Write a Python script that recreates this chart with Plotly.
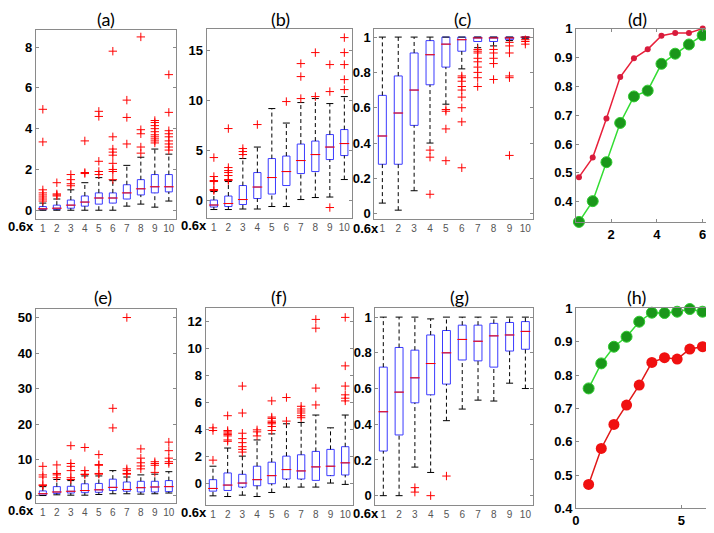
import plotly.graph_objects as go

# the page body adds an 8 px margin, so the figure is made smaller and
# every pixel position below is measured on the 714x533 window
W, H = 714, 533
OFF = 8
FW, FH = W - OFF, H - OFF
CATS = list(range(1, 11))

# ---- panel (a) ----
a_lo = [0, 0, 0, 0, 0, 0, 0.2, 0.3, 0.15, 0.45]
a_q1 = [0.02, 0.03, 0.1, 0.2, 0.3, 0.35, 0.55, 0.75, 0.85, 0.9]
a_med = [0.07, 0.1, 0.25, 0.4, 0.6, 0.6, 0.85, 1.05, 1.15, 1.15]
a_q3 = [0.18, 0.25, 0.5, 0.7, 0.85, 0.85, 1.25, 1.5, 1.75, 1.75]
a_hi = [0.35, 0.55, 1.0, 1.35, 1.6, 1.45, 2.2, 2.6, 3.0, 2.75]
a_out = [
    [0.45, 0.55, 0.65, 0.75, 0.85, 1.0, 3.35, 4.95],
    [0.7, 0.75, 0.8, 1.35],
    [1.2, 1.3, 1.5, 1.75],
    [1.8, 1.85, 3.4],
    [1.75, 1.9, 2.4, 4.6, 4.85],
    [1.5, 1.9, 2.0, 2.3, 2.7, 2.85, 3.0, 3.6, 7.8],
    [3.25, 4.55, 5.4],
    [2.8, 3.1, 3.75, 3.95, 8.5],
    [3.3, 3.4, 3.5, 3.6, 3.7, 3.85, 4.0, 4.15, 4.3, 4.4],
    [2.95, 3.1, 3.25, 3.4, 3.6, 3.75, 3.9, 4.8, 6.65],
]

# ---- panel (b) ----
b_lo = [-0.9, -0.9, -0.85, -0.85, -0.6, -0.6, 0.1, 0.3, 0.35, 2.1]
b_q1 = [-0.65, -0.6, -0.4, 0.2, 0.65, 1.5, 2.7, 2.9, 4.1, 4.5]
b_med = [-0.45, -0.3, 0.1, 1.35, 2.3, 2.9, 4.0, 4.6, 5.35, 5.7]
b_q3 = [0.05, 0.45, 1.5, 2.8, 4.2, 4.45, 5.65, 5.95, 6.6, 7.1]
b_hi = [0.9, 1.9, 4.2, 5.35, 9.2, 7.75, 9.8, 10.2, 9.7, 10.4]
b_out = [
    [1.0, 1.1, 1.9, 2.0, 2.4, 4.3],
    [2.0, 2.1, 2.5, 2.8, 3.0, 3.3, 7.2],
    [4.6, 4.9, 5.2],
    [7.6],
    [],
    [9.9],
    [10.2, 12.4, 13.7],
    [10.4, 14.8],
    [-0.7, 10.9, 13.6],
    [11.1, 12.1, 13.6, 14.8, 16.3],
]

# ---- panel (c) ----
c_lo = [0.06, 0.02, 0.13, 0.4, 0.62, 0.82, 0.94, 0.95, 0.98, 0.99]
c_q1 = [0.28, 0.28, 0.5, 0.73, 0.83, 0.92, 0.975, 0.975, 0.985, 0.995]
c_med = [0.44, 0.57, 0.7, 0.9, 0.96, 0.985, 0.995, 0.995, 0.995, 1.0]
c_q3 = [0.67, 0.78, 0.91, 0.98, 1.0, 1.0, 1.0, 1.0, 1.0, 1.0]
c_hi = [1.0, 1.0, 1.0, 1.0, 1.0, 1.0, 1.0, 1.0, 1.0, 1.0]
c_out = [
    [], [], [],
    [0.36, 0.32, 0.11],
    [0.59, 0.58, 0.48, 0.30],
    [0.78, 0.77, 0.75, 0.72, 0.70, 0.66, 0.60, 0.52, 0.26],
    [0.93, 0.92, 0.91, 0.88, 0.86, 0.83, 0.80, 0.77, 0.72],
    [0.93, 0.91, 0.88, 0.85, 0.76],
    [0.97, 0.95, 0.91, 0.78, 0.77, 0.33],
    [0.985, 0.975, 0.96],
]

# ---- panel (e) ----
e_lo = [0, 0.2, 0.1, 0.1, 0.3, 0.5, 0.5, 0.4, 0.5, 0.7]
e_q1 = [0.1, 0.6, 0.7, 0.8, 0.9, 1.4, 1.2, 1.0, 1.0, 1.1]
e_med = [0.5, 1.0, 1.2, 1.4, 1.6, 2.3, 1.7, 2.2, 2.4, 2.5]
e_q3 = [1.3, 2.5, 2.6, 3.3, 3.4, 4.6, 3.8, 4.0, 4.0, 4.2]
e_hi = [2.5, 4.5, 4.2, 5.5, 5.5, 7.0, 5.2, 5.8, 6.0, 6.7]
e_out = [
    [2.8, 3.0, 5.2, 5.8, 8.2],
    [5.0, 5.8, 6.2, 8.6],
    [4.5, 5.0, 7.0, 8.2, 9.0, 14.0],
    [5.9, 6.0, 7.0, 13.5],
    [6.0, 6.2, 8.5, 8.7, 11.5],
    [19.0, 24.5],
    [6.0, 6.2, 7.0, 7.5, 50.0],
    [7.5, 8.3, 9.2, 10.5, 13.1],
    [6.5, 8.5, 9.0, 9.5],
    [9.0, 9.5, 10.5, 12.6, 15.0],
]

# ---- panel (f) ----
f_lo = [-0.95, -1.0, -0.9, -1.0, -0.7, -0.3, -0.3, -0.3, 0.0, -0.1]
f_q1 = [-0.6, -0.55, -0.3, -0.2, -0.05, 0.3, 0.3, 0.2, 0.55, 0.6]
f_med = [-0.4, -0.15, 0.0, 0.25, 0.55, 1.0, 0.9, 1.2, 1.25, 1.5]
f_q3 = [0.25, 0.75, 0.65, 1.25, 1.55, 2.0, 2.1, 2.35, 2.5, 2.7]
f_hi = [1.25, 2.6, 2.0, 3.2, 3.65, 4.4, 4.5, 5.05, 4.1, 5.05]
f_out = [
    [1.7, 3.9, 4.1],
    [3.1, 3.2, 3.5, 3.6, 3.7, 3.8, 3.9, 5.0],
    [2.3, 2.5, 2.7, 3.0, 3.3, 3.7, 5.2, 7.2],
    [3.5, 3.8, 3.95],
    [3.9, 4.2, 4.4, 4.5, 4.6, 4.8, 4.9, 6.1],
    [4.6, 6.35],
    [4.85, 5.0, 5.2, 5.35, 5.5, 5.7],
    [5.8, 7.05, 11.5, 12.15],
    [],
    [6.1, 6.3, 6.55, 7.2, 8.7, 12.3],
]

# ---- panel (g) ----
g_lo = [0.0, 0.0, 0.16, 0.13, 0.42, 0.485, 0.535, 0.53, 0.63, 0.6]
g_q1 = [0.25, 0.34, 0.52, 0.565, 0.625, 0.76, 0.755, 0.72, 0.81, 0.82]
g_med = [0.47, 0.58, 0.66, 0.74, 0.8, 0.875, 0.865, 0.895, 0.9, 0.92]
g_q3 = [0.72, 0.83, 0.815, 0.9, 0.925, 0.955, 0.955, 0.965, 0.97, 0.975]
g_hi = [1.0, 1.0, 1.0, 0.99, 1.0, 1.0, 1.0, 1.0, 1.0, 1.0]
g_out = [[], [], [0.045, 0.02], [0.0], [0.11], [], [], [], [], []]

# ---- line panels (d) and (h) ----
steps = [0.6, 1.2, 1.8, 2.4, 3.0, 3.6, 4.2, 4.8, 5.4, 6.0]
d_red = [0.485, 0.553, 0.688, 0.832, 0.897, 0.928, 0.975, 0.985, 0.985, 1.0]
d_green = [0.33, 0.402, 0.537, 0.673, 0.765, 0.785, 0.878, 0.913, 0.945, 0.977]
h_green = [0.76, 0.835, 0.885, 0.915, 0.96, 0.987, 0.986, 0.99, 0.998, 0.99]
h_red = [0.472, 0.58, 0.652, 0.71, 0.77, 0.838, 0.852, 0.848, 0.878, 0.885]

# panel frames in window pixels: (left, right, top, bottom)
FRAMES = {
    1: (32, 173, 23, 218),
    2: (204, 350, 22, 217),
    3: (373, 533, 22, 218),
    4: (576, 714, 22, 221),
    5: (32, 173, 311, 510),
    6: (203, 351, 310, 512),
    7: (374, 533, 310, 512),
    8: (576, 714, 310, 516),
}
# "0.6x" label of each box panel: (right edge, gap below frame) in window pixels
ZERO6 = {1: (32, 8), 2: (206, 8), 3: (380, 10), 5: (32, 8), 6: (206, 8), 7: (380, 9)}

BLUE = "#3b3bff"
FRAME_COL = "#8a8a8a"
TICKFONT = dict(family="Liberation Sans", size=13, color="black", weight="bold")


def px_x(x):
    return (x - OFF) / FW


def px_y(y):
    return 1 - (y - OFF) / FH


fig = go.Figure()


def ax(n, kind):
    return kind if n == 1 else kind + str(n)


def add_box_panel(n, lo, q1, med, q3, hi, out):
    xa, ya = ax(n, "x"), ax(n, "y")
    wx, wy = [], []
    for c, l, a, b, h in zip(CATS, lo, q1, q3, hi):
        wx += [c, c, None, c, c, None]
        wy += [l, a, None, b, h, None]
    # dashed whiskers
    fig.add_trace(go.Scatter(x=wx, y=wy, mode="lines", xaxis=xa, yaxis=ya,
                             line=dict(color="black", width=1, dash="4px,3px")))
    # whisker caps
    fig.add_trace(go.Scatter(x=CATS + CATS, y=lo + hi, mode="markers", xaxis=xa, yaxis=ya,
                             marker=dict(symbol="line-ew", size=5,
                                         line=dict(color="black", width=1))))
    # boxes
    fig.add_trace(go.Box(x=CATS, q1=q1, median=med, q3=q3, lowerfence=q1, upperfence=q3,
                         width=0.5, whiskerwidth=0, boxpoints=False,
                         line=dict(color=BLUE, width=1), fillcolor="rgba(0,0,0,0)",
                         xaxis=xa, yaxis=ya))
    # red medians
    fig.add_trace(go.Scatter(x=CATS, y=med, mode="markers", xaxis=xa, yaxis=ya,
                             marker=dict(symbol="line-ew", size=7,
                                         line=dict(color="red", width=1))))
    # outliers
    ox = [c for c, o in zip(CATS, out) for _ in o]
    oy = [v for o in out for v in o]
    fig.add_trace(go.Scatter(x=ox, y=oy, mode="markers", xaxis=xa, yaxis=ya,
                             marker=dict(symbol="cross-thin", size=6,
                                         line=dict(color="red", width=1))))


add_box_panel(1, a_lo, a_q1, a_med, a_q3, a_hi, a_out)
add_box_panel(2, b_lo, b_q1, b_med, b_q3, b_hi, b_out)
add_box_panel(3, c_lo, c_q1, c_med, c_q3, c_hi, c_out)
add_box_panel(5, e_lo, e_q1, e_med, e_q3, e_hi, e_out)
add_box_panel(6, f_lo, f_q1, f_med, f_q3, f_hi, f_out)
add_box_panel(7, g_lo, g_q1, g_med, g_q3, g_hi, g_out)

# line panels
fig.add_trace(go.Scatter(x=steps, y=d_red, mode="lines+markers", xaxis="x4", yaxis="y4",
                         cliponaxis=False, line=dict(color="#e8203a", width=1.5),
                         marker=dict(size=6, color="#d81b3c")))
fig.add_trace(go.Scatter(x=steps, y=d_green, mode="lines+markers", xaxis="x4", yaxis="y4",
                         cliponaxis=False, line=dict(color="#33dd33", width=1.5),
                         marker=dict(size=11, color="#1a961a", line=dict(color="#2ecc2e", width=1))))
fig.add_trace(go.Scatter(x=steps, y=h_green, mode="lines+markers", xaxis="x8", yaxis="y8",
                         cliponaxis=False, line=dict(color="#33dd33", width=1.5),
                         marker=dict(size=11, color="#1a961a", line=dict(color="#2ecc2e", width=1))))
fig.add_trace(go.Scatter(x=steps, y=h_red, mode="lines+markers", xaxis="x8", yaxis="y8",
                         cliponaxis=False, line=dict(color="#e01818", width=1.5),
                         marker=dict(size=11, color="#f01010")))

Y_SETUP = {
    1: ([-0.43, 8.86], [0, 2, 4, 6, 8]),
    2: ([-1.75, 17.2], [0, 5, 10, 15]),
    3: ([-0.03, 1.048], [0, 0.2, 0.4, 0.6, 0.8, 1]),
    4: ([0.33, 1.0], [0.4, 0.5, 0.6, 0.7, 0.8, 0.9, 1]),
    5: ([-2.0, 52.3], [0, 10, 20, 30, 40, 50]),
    6: ([-1.6, 12.97], [0, 2, 4, 6, 8, 10, 12]),
    7: ([-0.05, 1.049], [0, 0.2, 0.4, 0.6, 0.8, 1]),
    8: ([0.4, 1.0], [0.4, 0.5, 0.6, 0.7, 0.8, 0.9, 1]),
}
X_SETUP = {4: ([0.47, 6.45], [2, 4, 6]), 8: ([0, 6.5], [0, 5])}

layout = dict(width=FW, height=FH, margin=dict(l=0, r=0, t=0, b=0),
              paper_bgcolor="white", plot_bgcolor="white", showlegend=False)

for n, (l, r, t, b) in FRAMES.items():
    xd = [px_x(l), min(px_x(r), 1)]
    yd = [px_y(b), px_y(t)]
    yr, yt = Y_SETUP[n]
    xkey = "xaxis" if n == 1 else f"xaxis{n}"
    ykey = "yaxis" if n == 1 else f"yaxis{n}"
    common = dict(showline=True, mirror="ticks", linecolor=FRAME_COL, linewidth=1,
                  showgrid=False, zeroline=False, ticks="inside", ticklen=3,
                  tickcolor=FRAME_COL)
    if n in X_SETUP:
        xr, xt = X_SETUP[n]
        xaxis = dict(domain=xd, anchor=ax(n, "y"), range=xr, tickvals=xt,
                     tickfont=TICKFONT, **common)
    else:
        xaxis = dict(domain=xd, anchor=ax(n, "y"), range=[0.5, 10.5], tickvals=CATS,
                     tickfont=dict(family="Liberation Sans", size=10, color="#555555"),
                     **{**common, "ticks": ""})
    yaxis = dict(domain=yd, anchor=ax(n, "x"), range=yr, tickvals=yt,
                 ticktext=[f"{v:g}" for v in yt], tickfont=TICKFONT, **common)
    layout[xkey] = xaxis
    layout[ykey] = yaxis

fig.update_layout(**layout)

# panel titles (centre positions in window pixels)
titles = [("(a)", 103, 12), ("(b)", 278, 12), ("(c)", 462, 12), ("(d)", 638, 12),
          ("(e)", 100, 298), ("(f)", 277, 298), ("(g)", 459, 298), ("(h)", 637, 298)]
for text, x, y in titles:
    fig.add_annotation(text=text, x=px_x(x), y=px_y(y), xref="paper", yref="paper",
                       xanchor="center", yanchor="middle", showarrow=False,
                       font=dict(family="Lato", size=18, color="black"))

# "0.6x" labels under the box panels
for n, (right, gap) in ZERO6.items():
    b = FRAMES[n][3]
    fig.add_annotation(text="0.6x", x=px_x(right), y=px_y(b + gap), xref="paper",
                       yref="paper", xanchor="right", yanchor="middle", showarrow=False,
                       font=dict(family="Liberation Sans", size=13, color="black",
                                 weight="bold"))

fig.write_html("out.html")
